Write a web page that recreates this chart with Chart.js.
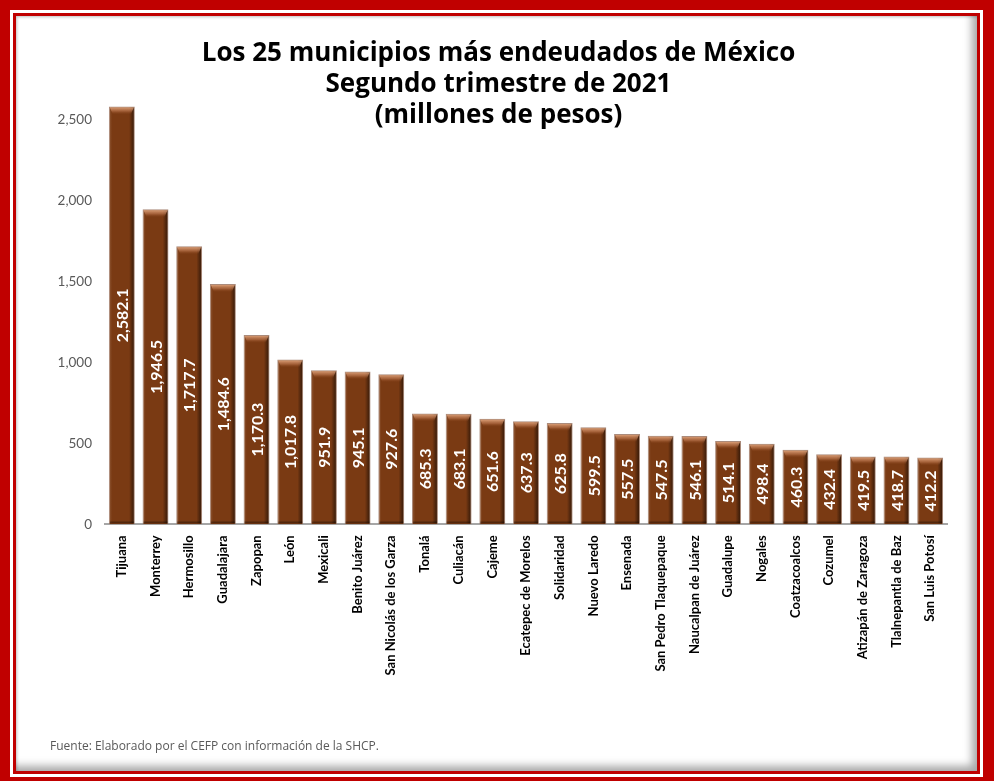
<!DOCTYPE html>
<html>
<head>
<meta charset="utf-8">
<script src="https://cdn.jsdelivr.net/npm/chart.js@4.4.0/dist/chart.umd.min.js"></script>
<style>
  html, body { margin: 0; padding: 0; }
  body { width: 994px; height: 781px; background: #C00000; position: relative; overflow: hidden; }
  .w1 { position: absolute; left: 10px; top: 10px; width: 973px; height: 767px; background: #fff; }
  .r2 { position: absolute; left: 13px; top: 13px; width: 967px; height: 761px; background: #C00000; }
  .content { position: absolute; left: 16px; top: 16px; width: 961px; height: 755px; background: #fff; }
  .shade { position: absolute; left: 16px; top: 16px; width: 961px; height: 755px; pointer-events: none;
           box-shadow: inset -7px -7px 9px -2px rgba(0,0,0,0.35), inset 2px 2px 3px -1px rgba(0,0,0,0.25); }
  canvas { position: absolute; left: 17px; top: 17px; }
</style>
</head>
<body>
<div class="w1"></div>
<div class="r2"></div>
<div class="content"></div>
<canvas id="c" width="958" height="753"></canvas>
<div class="shade"></div>
<script>
const categories = ["Tijuana","Monterrey","Hermosillo","Guadalajara","Zapopan","León","Mexicali","Benito Juárez","San Nicolás de los Garza","Tonalá","Culiacán","Cajeme","Ecatepec de Morelos","Solidaridad","Nuevo Laredo","Ensenada","San Pedro Tlaquepaque","Naucalpan de Juárez","Guadalupe","Nogales","Coatzacoalcos","Cozumel","Atizapán de Zaragoza","Tlalnepantla de Baz","San Luis Potosí"];
const deuda = [2582.1,1946.5,1717.7,1484.6,1170.3,1017.8,951.9,945.1,927.6,685.3,683.1,651.6,637.3,625.8,599.5,557.5,547.5,546.1,514.1,498.4,460.3,432.4,419.5,418.7,412.2];
const yTicks = [0,500,1000,1500,2000,2500];
const titleLines = ["Los 25 municipios más endeudados de México","Segundo trimestre de 2021","(millones de pesos)"];
const sourceNote = "Fuente: Elaborado por el CEFP con información de la SHCP.";

const FONT = "Lato, 'Open Sans', sans-serif";
const WFONT = "'Open Sans', Lato, sans-serif";

const bevelPlugin = {
  id: 'bevel',
  afterDatasetsDraw(chart) {
    const ctx = chart.ctx;
    const meta = chart.getDatasetMeta(0);
    meta.data.forEach((bar, i) => {
      const w = bar.width, l = bar.x - w / 2, r = bar.x + w / 2, t = bar.y, b = bar.base;
      ctx.save();
      const g = ctx.createLinearGradient(l, 0, r, 0);
      g.addColorStop(0, 'rgba(255,220,190,0.18)');
      g.addColorStop(0.12, 'rgba(255,255,255,0)');
      g.addColorStop(0.78, 'rgba(0,0,0,0)');
      g.addColorStop(0.9, 'rgba(0,0,0,0.35)');
      g.addColorStop(1, 'rgba(0,0,0,0.6)');
      ctx.fillStyle = g;
      ctx.fillRect(l + 1, t + 1, w - 2, b - t - 2);
      const bh = 8;
      const g2 = ctx.createLinearGradient(0, t + 1, 0, t + bh);
      g2.addColorStop(0, 'rgba(230,170,130,0.85)');
      g2.addColorStop(0.5, 'rgba(200,130,90,0.55)');
      g2.addColorStop(1, 'rgba(140,70,30,0)');
      ctx.fillStyle = g2;
      ctx.beginPath();
      ctx.moveTo(l + 1, t + 1);
      ctx.lineTo(r - 1, t + 1);
      ctx.lineTo(r - 4, t + bh);
      ctx.lineTo(l + 4, t + bh);
      ctx.closePath();
      ctx.fill();
      const g3 = ctx.createLinearGradient(0, b - 4, 0, b - 1);
      g3.addColorStop(0, 'rgba(0,0,0,0)');
      g3.addColorStop(1, 'rgba(0,0,0,0.45)');
      ctx.fillStyle = g3;
      ctx.fillRect(l + 1, b - 4, w - 2, 3);
      ctx.restore();

      ctx.save();
      ctx.translate(bar.x, (t + b) / 2);
      ctx.rotate(-Math.PI / 2);
      ctx.font = "bold 16px " + FONT;
      ctx.fillStyle = '#ffffff';
      ctx.textAlign = 'center';
      ctx.textBaseline = 'middle';
      ctx.fillText(deuda[i].toLocaleString('en-US', {minimumFractionDigits: 1, maximumFractionDigits: 1}), 0, 1);
      ctx.restore();
    });
  }
};

new Chart(document.getElementById('c'), {
  type: 'bar',
  data: {
    labels: categories,
    datasets: [{
      data: deuda,
      backgroundColor: '#7A3A13',
      borderColor: 'rgba(150,110,90,0.8)',
      borderWidth: 1,
      barPercentage: 0.77,
      categoryPercentage: 1.0
    }]
  },
  options: {
    responsive: false,
    devicePixelRatio: 1,
    animation: false,
    layout: { padding: { left: 33, right: 28, top: 0, bottom: 0 } },
    plugins: {
      legend: { display: false },
      tooltip: { enabled: false },
      title: {
        display: true,
        text: titleLines,
        color: '#000000',
        font: { family: WFONT, size: 26, weight: 'bold', lineHeight: 1.2 },
        padding: { top: 21, bottom: -28 }
      },
      subtitle: {
        display: true,
        position: 'bottom',
        align: 'start',
        text: sourceNote,
        color: '#595959',
        font: { family: WFONT, size: 12, lineHeight: 1.2 },
        padding: { top: 0, bottom: 16.3 }
      }
    },
    scales: {
      x: {
        grid: { display: false, drawTicks: false },
        border: { display: true, color: '#A6A6A6', width: 2 },
        ticks: {
          color: '#000000',
          font: { family: FONT, size: 13, weight: 'bold' },
          minRotation: 90, maxRotation: 90, autoSkip: false, padding: 11
        },
        afterFit(scale) { scale.height = 215; }
      },
      y: {
        min: 0, max: 2600,
        grid: { display: false, drawTicks: false },
        border: { display: false },
        afterBuildTicks(scale) { scale.ticks = yTicks.map(v => ({ value: v })); },
        ticks: {
          color: '#595959',
          font: { family: FONT, size: 13.5 },
          padding: 13,
          callback: v => v.toLocaleString('en-US')
        },
        afterFit(scale) { scale.width = 55; }
      }
    }
  },
  plugins: [bevelPlugin]
});
</script>
</body>
</html>
